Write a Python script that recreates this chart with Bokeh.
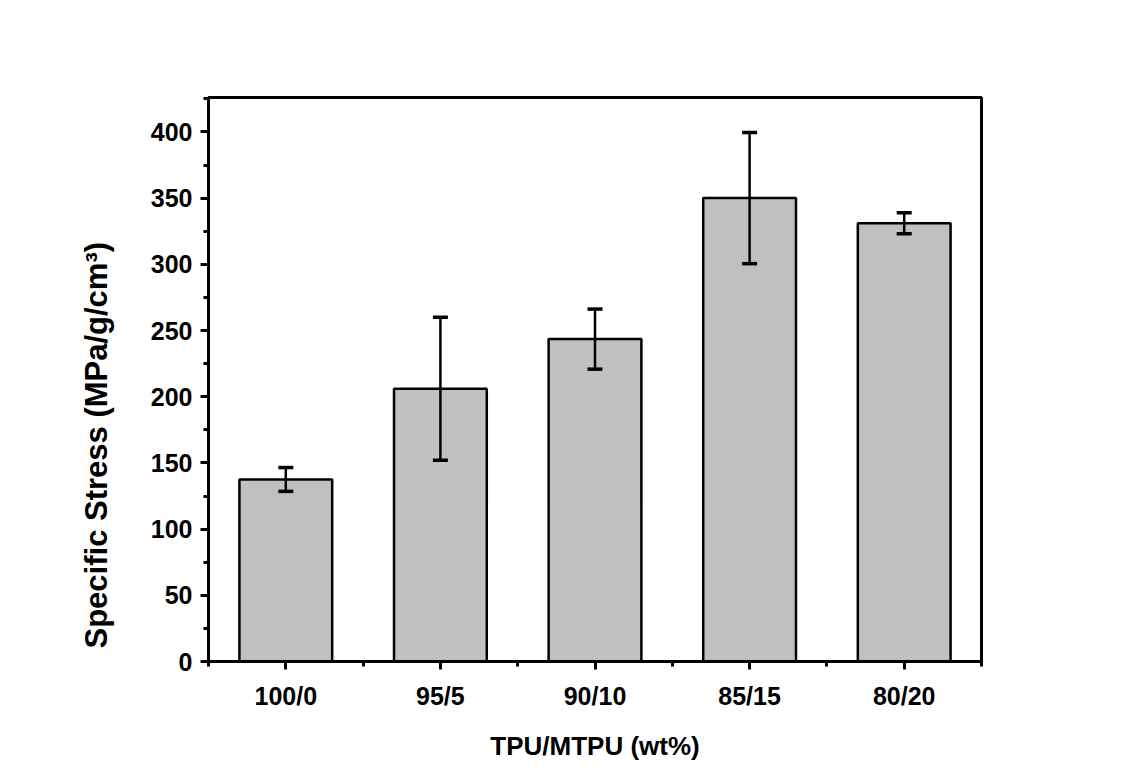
from bokeh.plotting import figure
from bokeh.models import (ColumnDataSource, Range1d, FixedTicker, SingleIntervalTicker,
                          Whisker, TeeHead, Title)
from bokeh.embed import file_html
from bokeh.resources import INLINE

# Data
categories = ["100/0", "95/5", "90/10", "85/15", "80/20"]
stress = [137.5, 206, 243.5, 350, 331]
error = [9, 54, 22.7, 49.5, 8]

xpos = list(range(1, len(categories) + 1))
source = ColumnDataSource(dict(
    x=xpos,
    top=stress,
    upper=[s + e for s, e in zip(stress, error)],
    lower=[s - e for s, e in zip(stress, error)],
))

FONT = "Liberation Sans"

p = figure(width=1113, height=768, output_backend="svg", toolbar_location=None,
           x_range=Range1d(0.5, 5.5), y_range=Range1d(0, 426),
           min_border_left=208, min_border_right=132, min_border_top=97, min_border_bottom=107)
p.background_fill_color = "white"
p.border_fill_color = "white"
p.outline_line_color = "black"
p.outline_line_width = 3
p.xgrid.visible = False
p.ygrid.visible = False

p.vbar(x="x", top="top", width=0.6, bottom=0, source=source,
       fill_color="#c0c0c0", line_color="black", line_width=2.5)

w = Whisker(base="x", upper="upper", lower="lower", source=source,
            line_color="black", line_width=2.5, level="overlay",
            upper_head=TeeHead(size=15, line_width=3.5, line_color="black"),
            lower_head=TeeHead(size=15, line_width=3.5, line_color="black"))
p.add_layout(w)

# x axis
p.xaxis.ticker = FixedTicker(ticks=xpos, minor_ticks=[0.5, 1.5, 2.5, 3.5, 4.5, 5.5])
p.xaxis.major_label_overrides = {i: c for i, c in zip(xpos, categories)}
p.xaxis.axis_label = "TPU/MTPU (wt%)"
p.xaxis.axis_label_standoff = 18

# y axis
p.yaxis.ticker = SingleIntervalTicker(interval=50, num_minor_ticks=2)
p.yaxis.major_label_standoff = 8

for ax in (p.xaxis, p.yaxis):
    ax.axis_line_width = 3
    ax.axis_line_color = "black"
    ax.major_tick_in = 0
    ax.major_tick_out = 8
    ax.minor_tick_in = 0
    ax.minor_tick_out = 5
    ax.major_tick_line_width = 3
    ax.minor_tick_line_width = 3
    ax.major_label_text_font = FONT
    ax.major_label_text_font_style = "bold"
    ax.major_label_text_font_size = "25px"
    ax.major_label_text_color = "black"
    ax.axis_label_text_font = FONT
    ax.axis_label_text_font_style = "bold"
    ax.axis_label_text_font_size = "26px"
    ax.axis_label_text_color = "black"
p.xaxis.major_label_standoff = 12

ylab = Title(text="Specific Stress (MPa/g/cm³)", align="left", offset=13,
             text_font=FONT, text_font_style="bold", text_font_size="31px",
             text_color="black", standoff=68)
p.add_layout(ylab, "left")

open("out.html", "w").write(file_html(p, INLINE))
